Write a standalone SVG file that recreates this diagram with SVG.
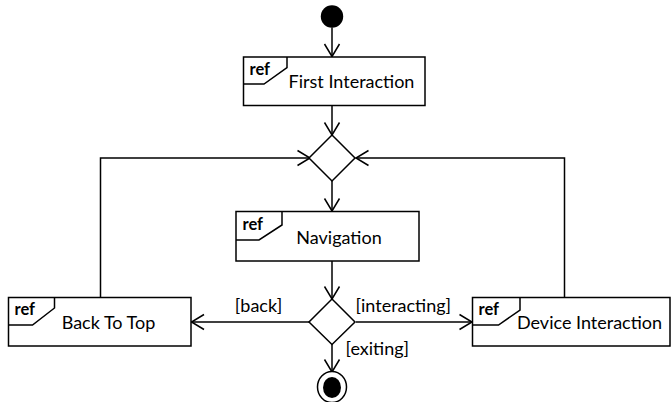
<svg xmlns="http://www.w3.org/2000/svg" width="671" height="402" viewBox="0 0 671 402">
  <style>
    .box { fill: #ffffff; stroke: #000000; stroke-width: 1.5; }
    .tab { fill: none; stroke: #000000; stroke-width: 1.5; }
    .ref { font-family: Lato, "Liberation Sans", sans-serif; font-weight: bold; font-size: 16.5px; fill: #000000; }
    .name { font-family: Lato, "Liberation Sans", sans-serif; font-size: 18px; fill: #000000; text-anchor: middle; }
    .guard { font-family: Lato, "Liberation Sans", sans-serif; font-size: 18px; fill: #000000; }
    .edge { fill: none; stroke: #000000; stroke-width: 1.5; marker-end: url(#open-arrow); }
    .decision { fill: #ffffff; stroke: #000000; stroke-width: 1.5; }
  </style>
  <defs>
    <marker id="open-arrow" markerUnits="userSpaceOnUse" markerWidth="16" markerHeight="18" viewBox="-14 -9 16 18" refX="0" refY="0" orient="auto">
      <path d="M -12.5 -7.5 L 0 0 L -12.5 7.5" fill="none" stroke="#000000" stroke-width="1.5"/>
    </marker>
  </defs>

  <!-- control flow -->
  <g id="connectors">
    <path class="edge" d="M 332 27.5 L 332 56.5"/>
    <path class="edge" d="M 332 105.5 L 332 135"/>
    <path class="edge" d="M 332 181 L 332 211"/>
    <path class="edge" d="M 332 261 L 332 299"/>
    <path class="edge" d="M 310 322 L 191.5 322"/>
    <path class="edge" d="M 356 322 L 472 322"/>
    <path class="edge" d="M 332 344 L 332 372"/>
    <path class="edge" d="M 100.5 297 L 100.5 158 L 310 158"/>
    <path class="edge" d="M 564.5 297 L 564.5 158 L 356 158"/>
    <text class="guard" x="258.5" y="312" text-anchor="middle">[back]</text>
    <text class="guard" x="355.5" y="312">[interacting]</text>
    <text class="guard" x="345.5" y="355">[exiting]</text>
  </g>

  <g id="initial">
    <circle cx="332" cy="16.5" r="11.2" fill="#000000"/>
  </g>

  <g id="first-interaction">
    <rect class="box" x="243.5" y="57" width="181.5" height="48.5"/>
    <path class="tab" d="M 287 57 L 287 67.5 L 264 84 L 243.5 84"/>
    <text class="ref" x="249.5" y="74.5">ref</text>
    <text class="name" x="351.5" y="88">First Interaction</text>
  </g>

  <g id="merge">
    <polygon class="decision" points="332,135 355,158 332,181 309,158"/>
  </g>

  <g id="navigation">
    <rect class="box" x="236" y="211.5" width="183" height="49.5"/>
    <path class="tab" d="M 282 211.5 L 282 225 L 259 240 L 236 240"/>
    <text class="ref" x="242.5" y="229.5">ref</text>
    <text class="name" x="339" y="244">Navigation</text>
  </g>

  <g id="decision">
    <polygon class="decision" points="332,299 355,322 332,344.5 309,322"/>
  </g>

  <g id="back-to-top">
    <rect class="box" x="8.5" y="297.5" width="182.5" height="48.5"/>
    <path class="tab" d="M 54.5 297.5 L 54.5 308 L 32.5 325 L 8.5 325"/>
    <text class="ref" x="14.5" y="315">ref</text>
    <text class="name" x="108.5" y="329">Back To Top</text>
  </g>

  <g id="device-interaction">
    <rect class="box" x="472.5" y="297.5" width="197.5" height="48.5"/>
    <path class="tab" d="M 520 297.5 L 520 310 L 498.5 325 L 472.5 325"/>
    <text class="ref" x="478.5" y="315">ref</text>
    <text class="name" x="589.5" y="329">Device Interaction</text>
  </g>

  <g id="final">
    <ellipse cx="332" cy="387" rx="14.5" ry="15.5" fill="#ffffff" stroke="#000000" stroke-width="1.5"/>
    <ellipse cx="332" cy="387.5" rx="9" ry="10.5" fill="#000000"/>
  </g>
</svg>
